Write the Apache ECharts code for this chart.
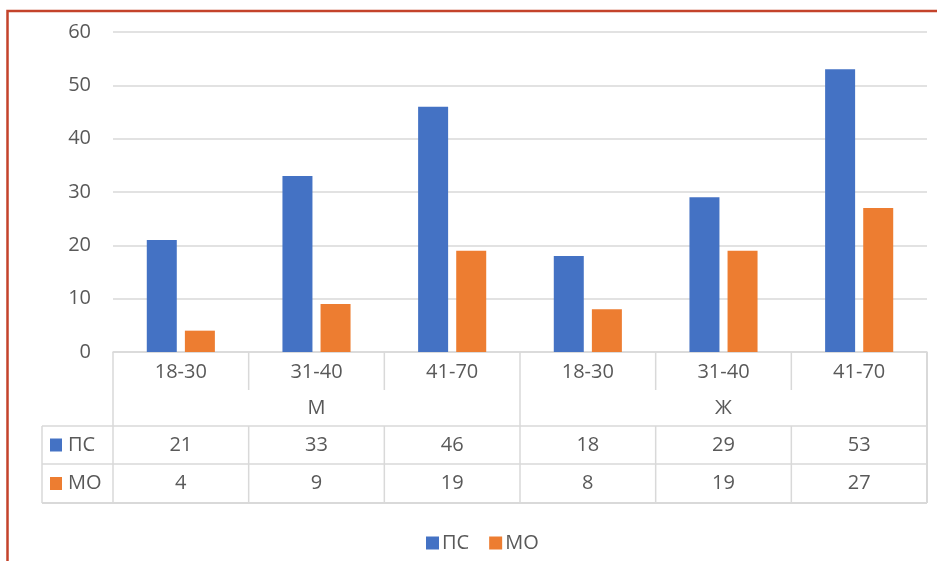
<!DOCTYPE html>
<html>
<head>
<meta charset="utf-8">
<script src="https://cdn.jsdelivr.net/npm/echarts@6/dist/echarts.min.js"></script>
<style>
  html, body { margin: 0; padding: 0; background: #ffffff; }
  #chart { width: 937px; height: 561px; }
</style>
</head>
<body>
<div id="chart"></div>
<script>
// Age bands along the category axis, grouped by sex
const ageGroups = ['18-30', '31-40', '41-70', '18-30', '31-40', '41-70'];
const genders = ['М', 'Ж'];
const groupSize = 3;
const seriesNames = ['ПС', 'МО'];
const psValues = [21, 33, 46, 18, 29, 53];
const moValues = [4, 9, 19, 8, 19, 27];
const yTicks = [0, 10, 20, 30, 40, 50, 60];

const colors = ['#4472C4', '#ED7D31'];
const textColor = '#595959';
const lineColor = '#d9d9d9';
const fontFamily = '"Open Sans", "Noto Sans", sans-serif';
const fontSize = 20;

const chart = echarts.init(document.getElementById('chart'), null, { renderer: 'canvas' });

// unique keys for each category slot, labelled with the age band only
const categoryKeys = ageGroups.map((a, i) => genders[Math.floor(i / groupSize)] + '|' + a);

chart.setOption({
  animation: false,
  backgroundColor: '#ffffff',
  textStyle: { fontFamily: fontFamily },
  grid: { left: 113, right: 10, top: 32, bottom: 209, containLabel: false },
  legend: {
    data: seriesNames,
    left: 421,
    top: 528,
    icon: 'rect',
    itemWidth: 13,
    itemHeight: 13,
    itemGap: 20,
    textStyle: { color: textColor, fontSize: fontSize, fontFamily: fontFamily, padding: [0, 0, 0, -2] }
  },
  xAxis: {
    type: 'category',
    data: categoryKeys,
    axisLine: { show: true, lineStyle: { color: lineColor, width: 1.5 } },
    axisTick: { show: false },
    axisLabel: {
      interval: 0,
      margin: 20,
      verticalAlign: 'middle',
      color: textColor,
      fontSize: fontSize,
      fontFamily: fontFamily,
      formatter: v => v.split('|')[1]
    }
  },
  yAxis: {
    type: 'value',
    min: yTicks[0],
    max: yTicks[yTicks.length - 1],
    interval: yTicks[1] - yTicks[0],
    axisLine: { show: false },
    axisTick: { show: false },
    splitLine: { lineStyle: { color: lineColor, width: 1.5 } },
    axisLabel: { color: textColor, fontSize: fontSize, fontFamily: fontFamily, margin: 22 }
  },
  series: [
    { name: seriesNames[0], type: 'bar', data: psValues, barWidth: 30, barGap: '27%', itemStyle: { color: colors[0] } },
    { name: seriesNames[1], type: 'bar', data: moValues, barWidth: 30, itemStyle: { color: colors[1] } }
  ]
});

// Data table under the plot, positioned from the axis scales
function buildTable() {
  const centers = categoryKeys.map((k, i) => chart.convertToPixel({ xAxisIndex: 0 }, i));
  const band = centers[1] - centers[0];
  const bounds = [];
  for (let i = 0; i <= categoryKeys.length; i++) bounds.push(centers[0] - band / 2 + i * band);
  const y0 = chart.convertToPixel({ yAxisIndex: 0 }, 0);

  const rowAgeEnd = y0 + 38;
  const rowGenderEnd = y0 + 74;
  const rowPsEnd = y0 + 112;
  const rowMoEnd = y0 + 151;
  const tableLeft = 42;
  const right = bounds[bounds.length - 1];

  const els = [];
  const line = (x1, y1, x2, y2, w) => els.push({
    type: 'line', silent: true,
    shape: { x1, y1, x2, y2 },
    style: { stroke: lineColor, lineWidth: w || 1.5 }
  });
  const text = (str, x, y, align) => els.push({
    type: 'text', silent: true,
    x, y,
    style: { text: str, fill: textColor, font: fontSize + 'px ' + fontFamily, align: align || 'center', verticalAlign: 'middle' }
  });

  // vertical lines
  bounds.forEach((x, i) => {
    const fullHeight = (i % groupSize === 0);
    if (fullHeight) {
      line(x, y0, x, rowMoEnd, i === bounds.length - 1 ? 2 : 1.5);
    } else {
      line(x, y0, x, rowAgeEnd);
      line(x, rowGenderEnd, x, rowMoEnd);
    }
  });
  line(tableLeft, rowGenderEnd, tableLeft, rowMoEnd);

  // horizontal lines
  line(tableLeft, rowGenderEnd, right, rowGenderEnd);
  line(tableLeft, rowPsEnd, right, rowPsEnd);
  line(tableLeft, rowMoEnd, right, rowMoEnd, 2);

  // sex labels centred across their age bands
  genders.forEach((g, gi) => {
    const xa = bounds[gi * groupSize];
    const xb = bounds[(gi + 1) * groupSize];
    text(g, (xa + xb) / 2, (rowAgeEnd + rowGenderEnd) / 2);
  });

  // value rows
  const rows = [psValues, moValues];
  const rowMid = [(rowGenderEnd + rowPsEnd) / 2, (rowPsEnd + rowMoEnd) / 2];
  rows.forEach((vals, r) => {
    vals.forEach((v, i) => text(String(v), centers[i], rowMid[r]));
    els.push({
      type: 'rect', silent: true,
      shape: { x: 50, y: rowMid[r] - 6.5, width: 12, height: 13 },
      style: { fill: colors[r] }
    });
    text(seriesNames[r], 68, rowMid[r], 'left');
  });

  // frame edge along the left and top
  els.push({
    type: 'polyline', silent: true,
    shape: { points: [[7.5, 561], [7.5, 11], [937, 11]] },
    style: { stroke: '#C4432B', lineWidth: 2.5, fill: null }
  });

  chart.setOption({ graphic: { elements: els } });
}
buildTable();
</script>
</body>
</html>
